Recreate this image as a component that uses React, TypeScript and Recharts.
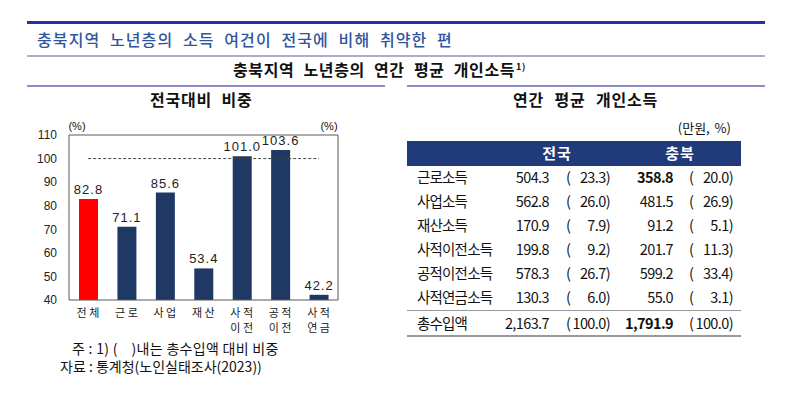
import React from 'react';
import { BarChart, Bar, XAxis, YAxis, ReferenceLine, LabelList, Cell } from 'recharts';

// ---- Data ----
const categories = ['전체', '근로', '사업', '재산', '사적 이전', '공적 이전', '사적 연금'];
const ratioValues = [82.8, 71.1, 85.6, 53.4, 101.0, 103.6, 42.2];
const yTicks = [40, 50, 60, 70, 80, 90, 100, 110];
const baseline = 100;

const incomeItems = ['근로소득', '사업소득', '재산소득', '사적이전소득', '공적이전소득', '사적연금소득', '총수입액'];
const nationalAmount = [504.3, 562.8, 170.9, 199.8, 578.3, 130.3, 2163.7];
const nationalShare = [23.3, 26.0, 7.9, 9.2, 26.7, 6.0, 100.0];
const chungbukAmount = [358.8, 481.5, 91.2, 201.7, 599.2, 55.0, 1791.9];
const chungbukShare = [20.0, 26.9, 5.1, 11.3, 33.4, 3.1, 100.0];
const boldChungbuk = [true, false, false, false, false, false, true];

const chartData = categories.map((name, i) => ({ name, value: ratioValues[i] }));

const fmt = (v: number) =>
  v.toLocaleString('en-US', { minimumFractionDigits: 1, maximumFractionDigits: 1 });

const NAVY = '#1F3864';
const AXIS = '#595959';
const KR = '"Noto Sans CJK KR", "Noto Sans", sans-serif';
const NUM = '"Liberation Sans", Arial, sans-serif';

type TProps = {
  x: number;
  y: number;
  anchor?: 'start' | 'middle' | 'end';
  style?: React.CSSProperties;
  children: React.ReactNode;
};
const T = ({ x, y, anchor = 'start', style, children }: TProps) => {
  const base: React.CSSProperties = {
    position: 'absolute',
    top: y,
    whiteSpace: 'nowrap',
    lineHeight: 1.2,
    fontFamily: KR,
    color: '#111',
  };
  if (anchor === 'start') {
    base.left = x;
    base.transform = 'translateY(-50%)';
  } else if (anchor === 'end') {
    base.right = 792 - x;
    base.transform = 'translateY(-50%)';
  } else {
    base.left = x;
    base.transform = 'translate(-50%, -50%)';
  }
  return <div style={{ ...base, ...style }}>{children}</div>;
};

const HLine = ({ x, y, w, h, c }: { x: number; y: number; w: number; h: number; c: string }) => (
  <div style={{ position: 'absolute', left: x, top: y, width: w, height: h, background: c }} />
);

const CatTick = (props: any) => {
  const { x, y, payload } = props;
  const lines = String(payload.value).split(' ');
  return (
    <text x={x} y={y} textAnchor="middle" fontSize={11} fill="#222" fontFamily={KR} letterSpacing={2.5}>
      {lines.map((l, i) => (
        <tspan key={i} x={x + 1} dy={i === 0 ? 17 : 15}>
          {l}
        </tspan>
      ))}
    </text>
  );
};

const rowY = [177, 201, 225, 249, 273, 297, 323];

export default function App() {
  return (
    <div
      style={{
        position: 'absolute',
        left: 0,
        top: 0,
        width: 792,
        height: 397,
        background: '#fff',
        overflow: 'hidden',
        fontFamily: KR,
      }}
    >
      {/* Header */}
      <HLine x={27} y={21} w={738} h={3} c="#2232A8" />
      <T x={37} y={40} style={{ fontSize: 16, color: '#2F55A0', letterSpacing: 1.1, wordSpacing: 5, fontWeight: 500 }}>
        충북지역 노년층의 소득 여건이 전국에 비해 취약한 편
      </T>
      <HLine x={27} y={55} w={738} h={2} c="#ABABD8" />
      <T x={233} y={70} style={{ fontSize: 16, fontWeight: 700, letterSpacing: 0.6, wordSpacing: 5 }}>
        충북지역 노년층의 연간 평균 개인소득
        <sup style={{ fontSize: 9, marginLeft: 1 }}>1)</sup>
      </T>
      <HLine x={27} y={85} w={358} h={2} c="#8C8CC8" />
      <HLine x={407} y={85} w={358} h={2} c="#8C8CC8" />
      <T x={150} y={100} style={{ fontSize: 16, fontWeight: 700, letterSpacing: 0.8, wordSpacing: 5 }}>
        전국대비 비중
      </T>
      <T x={513} y={100} style={{ fontSize: 16, fontWeight: 700, letterSpacing: 0.8, wordSpacing: 6 }}>
        연간 평균 개인소득
      </T>

      {/* Chart */}
      <div style={{ position: 'absolute', left: 0, top: 0 }}>
        <BarChart width={400} height={397} data={chartData} margin={{ top: 135, right: 32, left: 39, bottom: 57 }}>
          <XAxis
            dataKey="name"
            height={40}
            interval={0}
            axisLine={{ stroke: AXIS }}
            tickLine={false}
            tickSize={0}
            tickMargin={0}
            tick={<CatTick />}
          />
          <YAxis
            yAxisId="l"
            domain={[40, 110]}
            ticks={yTicks}
            width={30}
            tickSize={0}
            tickMargin={12}
            tickLine={false}
            axisLine={{ stroke: AXIS }}
            tick={{ fontSize: 12, fill: '#222', fontFamily: NUM }}
          />
          <YAxis
            yAxisId="r"
            orientation="right"
            domain={[40, 110]}
            ticks={yTicks}
            width={30}
            tickSize={0}
            tickMargin={10}
            tickLine={false}
            axisLine={{ stroke: AXIS }}
            tick={{ fontSize: 12, fill: '#222', fontFamily: NUM, textAnchor: 'start' }}
          />
          <ReferenceLine yAxisId="l" y={110} stroke={AXIS} />
          <ReferenceLine
            yAxisId="l"
            segment={[
              { x: categories[0], y: baseline },
              { x: categories[categories.length - 1], y: baseline },
            ]}
            stroke="#444"
            strokeDasharray="3 2"
          />
          <Bar yAxisId="l" dataKey="value" barSize={19} isAnimationActive={false}>
            {chartData.map((d, i) => (
              <Cell key={d.name} fill={i === 0 ? '#FF0000' : NAVY} />
            ))}
            <LabelList
              dataKey="value"
              position="top"
              offset={5}
              formatter={(v: any) => Number(v).toFixed(1)}
              style={{ fontSize: 13, fill: '#222', fontFamily: NUM, letterSpacing: 1 }}
            />
          </Bar>
        </BarChart>
      </div>
      <T x={77} y={127} anchor="middle" style={{ fontSize: 11, fontFamily: NUM }}>(%)</T>
      <T x={329} y={127} anchor="middle" style={{ fontSize: 11, fontFamily: NUM }}>(%)</T>

      {/* Footnotes */}
      <T x={72} y={348} style={{ fontSize: 14, letterSpacing: 0.3 }}>
        주 : 1) (&nbsp;&nbsp;&nbsp;&nbsp;)내는 총수입액 대비 비중
      </T>
      <T x={60} y={366} style={{ fontSize: 14 }}>
        자료 : 통계청(노인실태조사(2023))
      </T>

      {/* Table */}
      <T x={731} y={128} anchor="end" style={{ fontSize: 13, wordSpacing: 2 }}>(만원, %)</T>
      <HLine x={407} y={141} w={334} h={25} c="#203A7A" />
      <T x={557} y={153} anchor="middle" style={{ fontSize: 15, fontWeight: 700, color: '#fff', letterSpacing: 1 }}>전국</T>
      <T x={680} y={153} anchor="middle" style={{ fontSize: 15, fontWeight: 700, color: '#fff', letterSpacing: 1 }}>충북</T>
      {incomeItems.map((item, i) => {
        const y = rowY[i];
        const numStyle: React.CSSProperties = { fontSize: 14.5, letterSpacing: -0.6 };
        return (
          <React.Fragment key={item}>
            <T x={417} y={y} style={{ fontSize: 14.5, letterSpacing: -0.8 }}>{item}</T>
            <T x={549} y={y} anchor="end" style={numStyle}>{fmt(nationalAmount[i])}</T>
            <T x={566} y={y} style={numStyle}>(</T>
            <T x={610} y={y} anchor="end" style={numStyle}>{fmt(nationalShare[i])})</T>
            <T x={673} y={y} anchor="end" style={{ ...numStyle, fontWeight: boldChungbuk[i] ? 700 : 400 }}>
              {fmt(chungbukAmount[i])}
            </T>
            <T x={689} y={y} style={numStyle}>(</T>
            <T x={733} y={y} anchor="end" style={numStyle}>{fmt(chungbukShare[i])})</T>
          </React.Fragment>
        );
      })}
      <HLine x={407} y={310} w={334} h={1} c="#999" />
      <HLine x={407} y={335} w={334} h={2} c="#999" />
    </div>
  );
}
